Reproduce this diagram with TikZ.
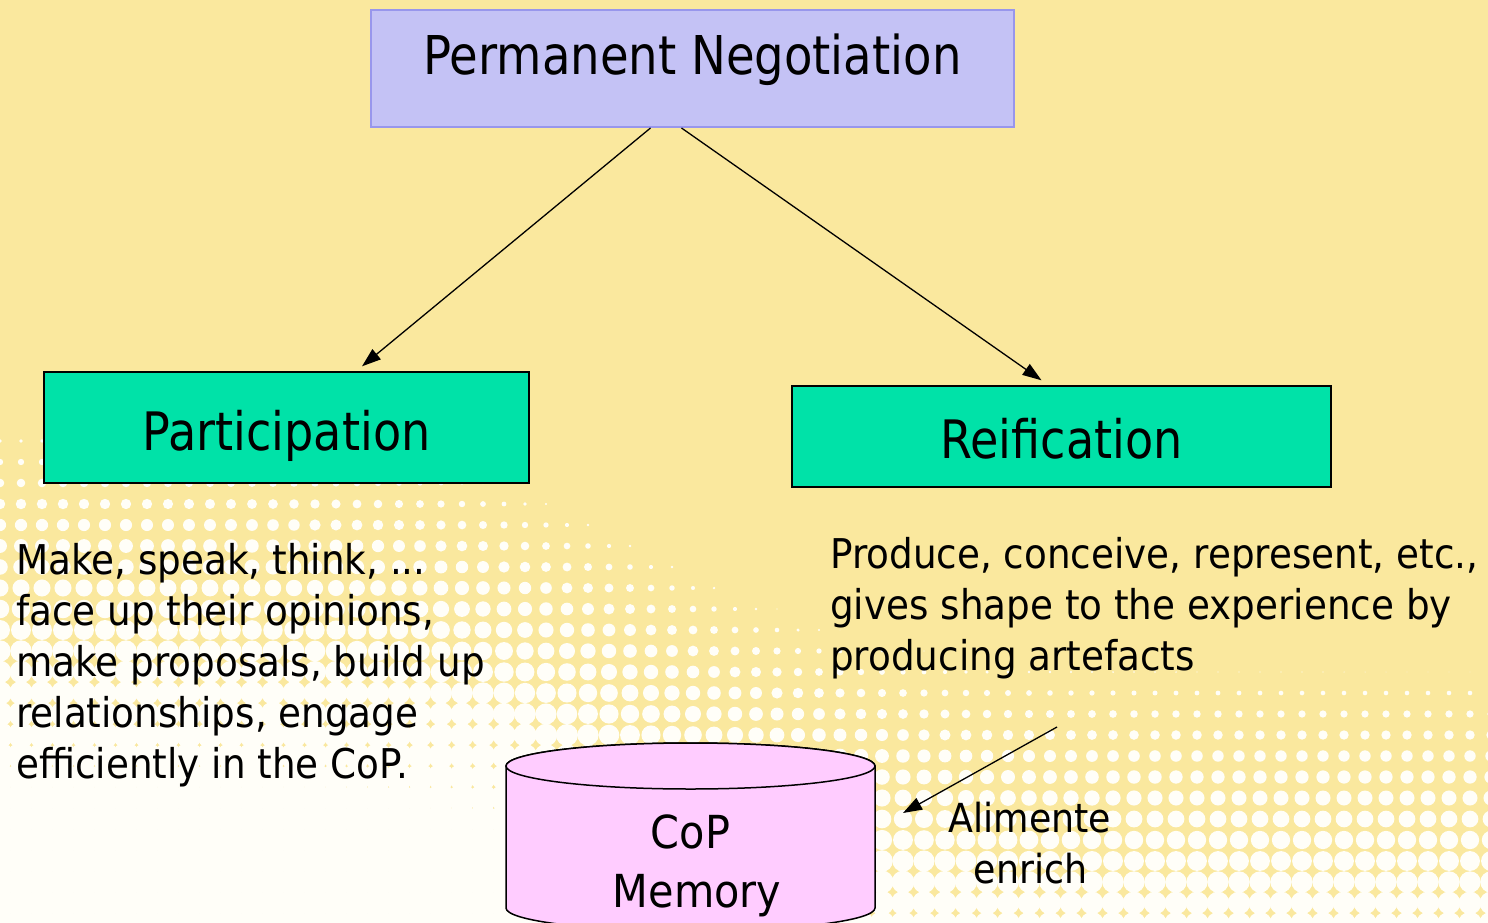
\documentclass[tikz,border=0pt]{standalone}
\usepackage{fontspec}
\setmainfont[FakeStretch=0.91]{DejaVu Sans}
\newfontfamily\headfont[FakeStretch=0.87]{DejaVu Sans}
\usetikzlibrary{arrows.meta}

\definecolor{bgyellow}{RGB}{250,232,158}
\definecolor{dotwhite}{RGB}{255,254,248}
\definecolor{negfill}{RGB}{196,194,245}
\definecolor{negline}{RGB}{152,150,236}
\definecolor{boxgreen}{RGB}{0,226,168}
\definecolor{memfill}{RGB}{255,204,255}

\begin{document}
\begin{tikzpicture}[x=1pt,y=-1pt,
  negbox/.style={draw=negline, line width=2pt, fill=negfill, inner sep=0pt,
    font=\headfont\fontsize{53.5}{60}\selectfont},
  headbox/.style={draw=black, line width=1.4pt, fill=boxgreen, inner sep=0pt,
    font=\headfont\fontsize{53}{60}\selectfont},
  bodyline/.style={inner sep=0pt, anchor=base west, font=\fontsize{41}{50}\selectfont},
  memline/.style={inner sep=0pt, anchor=base, font=\fontsize{45.5}{55}\selectfont},
  feedline/.style={inner sep=0pt, anchor=base, font=\fontsize{40}{50}\selectfont},
  arr/.style={line width=1.3pt, -{Triangle[length=19pt,width=13pt]}},
]
\useasboundingbox (0,0) rectangle (1488,923);
\clip (0,0) rectangle (1488,923);

% background with a halftone band fading to white towards the bottom
\fill[bgyellow] (0,0) rectangle (1488,923);
\foreach \i in {0,...,71}{
  \foreach \j in {19,...,44}{
    \pgfmathsetmacro\dotX{\i*21}
    \pgfmathsetmacro\dotY{\j*21}
    \pgfmathsetmacro\dotT{(\dotY-420-250/(1+exp(-(\dotX-650)/120)))/(370-0.02*\dotX)}
    \pgfmathsetmacro\dotR{14.9*(max(0,min(1,\dotT)))^0.7}
    \ifdim\dotR pt>0.4pt
      \fill[dotwhite] (\dotX,\dotY) circle[radius=\dotR pt];
    \fi
  }
}

% boxes
\node[negbox, minimum width=643pt, text height=65pt, text depth=52pt]
  (neg) at (692.5,68.5) {Permanent Negotiation};
\node[headbox, minimum width=485pt, text height=78pt, text depth=33pt]
  (part) at (286.5,427.5) {Participation};
\node[headbox, minimum width=539pt, text height=72pt, text depth=29pt]
  (reif) at (1061.5,436.5) {Reification};

% arrows from the negotiation box
\draw[arr] ([xshift=-42pt]neg.south) -- ([xshift=75.5pt,yshift=5pt]part.north);
\draw[arr] ([xshift=-11pt]neg.south) -- ([xshift=-20pt,yshift=5pt]reif.north);

% participation text
\node[bodyline] (p1) at (16,574) {Make, speak, think, ...};
\node[bodyline] (p2) at (16,625) {face up their opinions,};
\node[bodyline] (p3) at (16,676) {make proposals, build up};
\node[bodyline] (p4) at (16,727) {relationships, engage};
\node[bodyline] (p5) at (16,778) {efficiently in the CoP.};

% reification text
\node[bodyline] (r1) at (830,568) {Produce, conceive, represent, etc.,};
\node[bodyline] (r2) at (830,619) {gives shape to the experience by};
\node[bodyline] (r3) at (830,670) {producing artefacts};

% memory cylinder
\filldraw[fill=memfill, draw=black, line width=1.5pt]
  (506,766) -- (506,908)
  arc[start angle=180, end angle=360, x radius=184.5pt, y radius=23pt]
  -- (875,766)
  arc[start angle=0, end angle=180, x radius=184.5pt, y radius=23pt] -- cycle;
\filldraw[fill=memfill, draw=black, line width=1.5pt]
  (690.5,766) ellipse[x radius=184.5pt, y radius=23pt];
\node[memline] (memA) at (690.5,848) {CoP};
\node[memline] (memB) at (697,907) {Memory};

% feeding arrow
\coordinate (feedstart) at (1057,727);
\coordinate (feedtip) at (903,813);
\draw[arr] (feedstart) -- (feedtip);
\node[feedline] (alimA) at (1030,832) {Alimente};
\node[feedline] (alimB) at (1030.5,883) {enrich};
\end{tikzpicture}
\end{document}
